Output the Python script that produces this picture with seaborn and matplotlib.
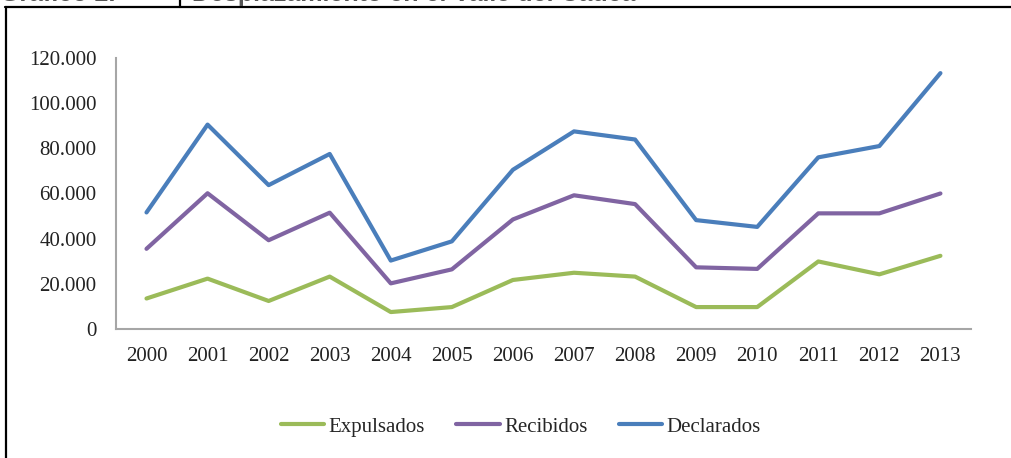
import pandas as pd
import matplotlib.pyplot as plt
import matplotlib.lines as mlines
from matplotlib.ticker import FuncFormatter
import seaborn as sns

# Desplazamiento: personas expulsadas, recibidas y declaradas por año

years = [str(y) for y in range(2000, 2014)]
expulsados = [13500, 22300, 12400, 23200, 7500, 9700, 21700,
              24900, 23200, 9700, 9700, 29900, 24200, 32400]
recibidos = [35500, 60100, 39300, 51500, 20200, 26400, 48500,
             59200, 55300, 27300, 26600, 51200, 51200, 60000]
declarados = [51600, 90500, 63700, 77500, 30300, 38800, 70500,
              87500, 83900, 48200, 45200, 76000, 81000, 113300]
series = ["Expulsados", "Recibidos", "Declarados"]
colors = ["#9BBB59", "#8064A2", "#4A7EBB"]

df = pd.DataFrame({"year": years, "Expulsados": expulsados,
                   "Recibidos": recibidos, "Declarados": declarados})
long = df.melt(id_vars="year", var_name="serie", value_name="valor")

sns.set_style("white")
plt.rcParams["font.family"] = ["Liberation Serif", "DejaVu Serif"]

fig = plt.figure(figsize=(10.11, 4.58), dpi=100)
ax = fig.add_axes([0.1147, 0.2817, 0.8457, 0.5917])

sns.lineplot(data=long, x="year", y="valor", hue="serie", hue_order=series,
             palette=colors, linewidth=3, sort=False, ax=ax, legend=False)

ax.set_xlim(-0.5, len(years) - 0.5)
ax.set_ylim(0, 120000)
ax.set_yticks(range(0, 120001, 20000))
ax.yaxis.set_major_formatter(FuncFormatter(lambda v, p: f"{int(v):,}".replace(",", ".")))
ax.set_xlabel("")
ax.set_ylabel("")
ax.tick_params(axis="both", length=0, labelsize=15, colors="#222222")
ax.tick_params(axis="y", pad=14)
ax.tick_params(axis="x", pad=13)
for side in ["top", "right"]:
    ax.spines[side].set_visible(False)
for side in ["left", "bottom"]:
    ax.spines[side].set_color("#A6A6A6")
    ax.spines[side].set_linewidth(1.5)

handles = [mlines.Line2D([], [], color=c, linewidth=3) for c in colors]
fig.legend(handles, series, loc="center", bbox_to_anchor=(0.515, 0.068), ncol=3,
           frameon=False, fontsize=15, handlelength=2.1, handletextpad=0.2,
           columnspacing=1.5)

# marco y título recortado de la página original
fig.add_artist(mlines.Line2D([0.005, 1.0], [0.985, 0.985], color="black", linewidth=1.6))
fig.add_artist(mlines.Line2D([0.006, 0.006], [0.0, 0.985], color="black", linewidth=1.6))
fig.add_artist(mlines.Line2D([0.178, 0.178], [0.985, 1.0], color="black", linewidth=1.6))
fig.text(0.0, 0.997, "Gráfico 2.", fontsize=18, fontweight="bold",
         family=["Liberation Sans", "DejaVu Sans"], va="baseline", color="#555555")
fig.text(0.19, 0.997, "Desplazamiento en el Valle del Cauca", fontsize=18,
         fontweight="bold", family=["Liberation Sans", "DejaVu Sans"], va="baseline",
         color="#555555")

fig.savefig("out.png", dpi=100)
